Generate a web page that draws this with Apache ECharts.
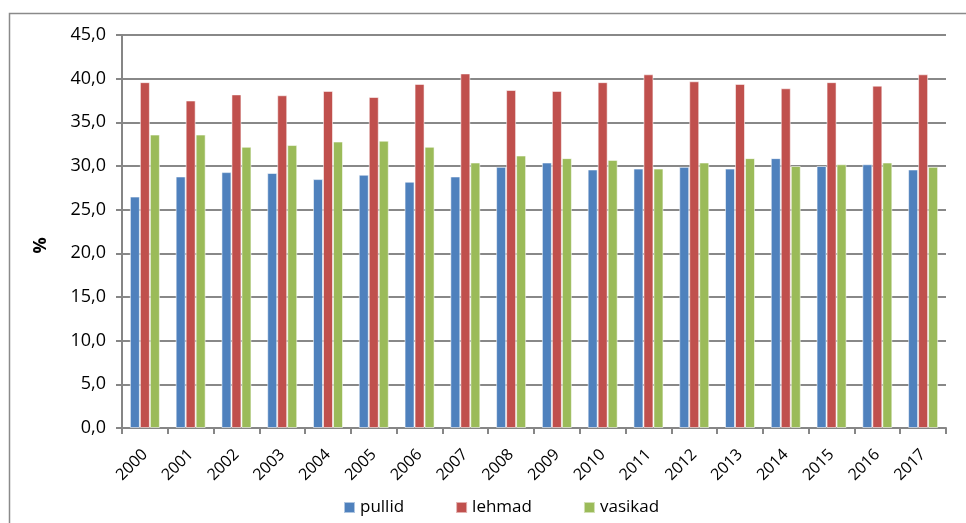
<!DOCTYPE html>
<html>
<head>
<meta charset="utf-8">
<script src="https://cdn.jsdelivr.net/npm/echarts@6/dist/echarts.min.js"></script>
<style>
  html, body { margin: 0; padding: 0; background: #fff; }
  #chart { width: 966px; height: 523px; }
</style>
</head>
<body>
<div id="chart"></div>
<script>
// Years on the category axis
const years = ['2000','2001','2002','2003','2004','2005','2006','2007','2008',
               '2009','2010','2011','2012','2013','2014','2015','2016','2017'];

// Share of each animal group, %
const pullid  = [26.5, 28.8, 29.3, 29.2, 28.5, 29.0, 28.2, 28.8, 29.9,
                 30.4, 29.6, 29.7, 29.9, 29.7, 30.9, 30.0, 30.2, 29.6];
const lehmad  = [39.6, 37.5, 38.2, 38.1, 38.6, 37.9, 39.4, 40.6, 38.7,
                 38.6, 39.6, 40.5, 39.7, 39.4, 38.9, 39.6, 39.2, 40.5];
const vasikad = [33.6, 33.6, 32.2, 32.4, 32.8, 32.9, 32.2, 30.4, 31.2,
                 30.9, 30.7, 29.7, 30.4, 30.9, 30.0, 30.2, 30.4, 29.9];

const seriesNames = ['pullid', 'lehmad', 'vasikad'];
const colors = ['#4F81BD', '#C0504D', '#9BBB59'];

const FONT = 'Open Sans';
const chart = echarts.init(document.getElementById('chart'), null, { renderer: 'canvas' });

function barSeries(name, data, color) {
  return {
    name: name,
    type: 'bar',
    data: data,
    barWidth: 10,
    barGap: '0%',
    itemStyle: { color: color, borderColor: 'rgba(255,255,255,0.55)', borderWidth: 1 },
    emphasis: { disabled: true }
  };
}

chart.setOption({
  animation: false,
  backgroundColor: '#fff',
  textStyle: { fontFamily: FONT },
  grid: { left: 122, right: 20, top: 35, bottom: 95, containLabel: false },
  legend: {
    data: seriesNames,
    left: 338,
    top: 494,
    itemWidth: 11,
    itemHeight: 11,
    itemGap: 51,
    icon: 'rect',
    textStyle: { fontFamily: FONT, fontSize: 17, color: '#000' }
  },
  xAxis: {
    type: 'category',
    data: years,
    axisLine: { show: true, lineStyle: { color: '#868686', width: 2 } },
    axisTick: { show: true, alignWithLabel: false, length: 6, lineStyle: { color: '#868686', width: 2 } },
    axisLabel: { rotate: 45, fontSize: 16, color: '#000', margin: 24, fontFamily: FONT },
    splitLine: { show: false }
  },
  yAxis: {
    type: 'value',
    min: 0,
    max: 45,
    interval: 5,
    name: '%',
    nameLocation: 'middle',
    nameGap: 72,
    nameRotate: 90,
    nameTextStyle: {
      fontFamily: FONT, fontSize: 18, fontWeight: 'bold', color: '#000',
      padding: [0, 28, 0, 0]
    },
    axisLine: { show: true, lineStyle: { color: '#868686', width: 2 } },
    axisTick: { show: true, length: 6, lineStyle: { color: '#868686', width: 2 } },
    axisLabel: {
      fontSize: 18, color: '#000', margin: 16, fontFamily: FONT,
      formatter: v => v.toFixed(1).replace('.', ',')
    },
    splitLine: { show: true, lineStyle: { color: '#888888', width: 2 } }
  },
  graphic: [{
    type: 'polyline',
    silent: true,
    shape: { points: [[9.5, 523], [9.5, 13.5], [966, 13.5]] },
    style: { stroke: '#8a8a8a', lineWidth: 1.5, fill: null }
  }],
  series: [
    barSeries(seriesNames[0], pullid, colors[0]),
    barSeries(seriesNames[1], lehmad, colors[1]),
    barSeries(seriesNames[2], vasikad, colors[2])
  ]
});
</script>
</body>
</html>
